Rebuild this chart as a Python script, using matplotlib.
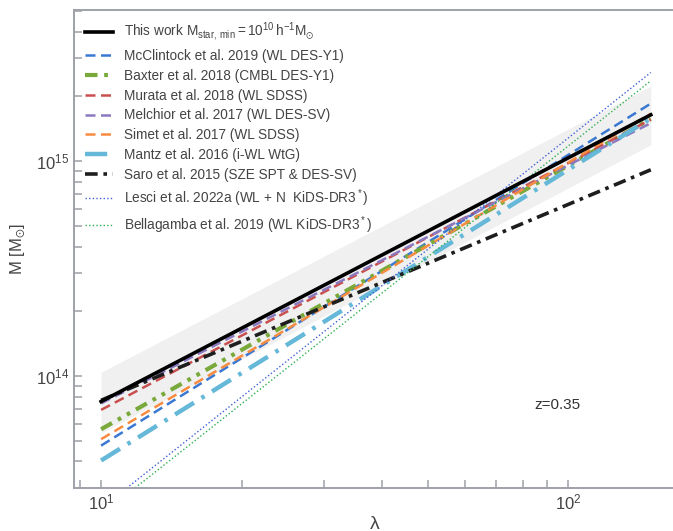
import matplotlib
matplotlib.use("Agg")
import matplotlib.pyplot as plt
import numpy as np

plt.rcParams['font.family'] = ['Liberation Sans', 'DejaVu Sans']
plt.rcParams['mathtext.fontset'] = 'custom'
plt.rcParams['mathtext.rm'] = 'Liberation Sans'
plt.rcParams['mathtext.it'] = 'Liberation Sans:italic'
plt.rcParams['mathtext.fallback'] = 'stixsans'

# richness range of all relations
lam_ends = [10, 150]

# mass (M_sun) at lambda = 10 and lambda = 150
this_work = [7.6e13, 1.64e15]
mcclintock = [4.74e13, 1.85e15]
baxter = [5.65e13, 1.57e15]
murata = [6.95e13, 1.56e15]
melchior = [7.45e13, 1.50e15]
simet = [5.08e13, 1.66e15]
mantz = [4.04e13, 1.58e15]
saro = [7.7e13, 9.1e14]
lesci = [2.42e13, 2.58e15]
bellagamba = [2.26e13, 2.36e15]

band_low = [5.43e13, 1.19e15]
band_high = [1.04e14, 2.23e15]

fig = plt.figure(figsize=(6.73, 5.31), dpi=100)
ax = fig.add_axes([74 / 673, 43 / 531, 601 / 673, 478 / 531])

ax.fill_between(lam_ends, band_low, band_high, color='#f0f0f0', lw=0, zorder=0)

ax.plot(lam_ends, this_work, color='black', lw=2.6,
        label=r'This work $\mathrm{M_{star,\,min}} = 10^{10}\,\mathrm{h^{-1}M_{\odot}}$', zorder=5)
ax.plot(lam_ends, mcclintock, color='#3b78d2', lw=1.8, dashes=(4, 2.2),
        label='McClintock et al. 2019 (WL DES-Y1)')
ax.plot(lam_ends, baxter, color='#78a93a', lw=3, dashes=(3, 1.6, 0.9, 1.6, 0.9, 1.6),
        label='Baxter et al. 2018 (CMBL DES-Y1)')
ax.plot(lam_ends, murata, color='#c9504f', lw=1.8, dashes=(4, 2.2),
        label='Murata et al. 2018 (WL SDSS)')
ax.plot(lam_ends, melchior, color='#8a79c0', lw=1.8, dashes=(4, 2.2),
        label='Melchior et al. 2017 (WL DES-SV)')
ax.plot(lam_ends, simet, color='#f78b40', lw=1.8, dashes=(4, 2.2),
        label='Simet et al. 2017 (WL SDSS)')
ax.plot(lam_ends, mantz, color='#66b8d8', lw=3.2, dashes=(5, 2, 0.8, 2),
        label='Mantz et al. 2016 (i-WL WtG)')
ax.plot(lam_ends, saro, color='#1e1e1e', lw=2.6, dashes=(3.5, 1.6, 1, 1.6),
        label='Saro et al. 2015 (SZE SPT & DES-SV)')
ax.plot(lam_ends, lesci, color='#3f5fd6', lw=1, ls=(0, (1, 1.6)),
        label=r'Lesci et al. 2022a (WL + N  KiDS-DR3$^*$)')
ax.plot(lam_ends, bellagamba, color='#2eb050', lw=1, ls=(0, (1, 1.6)),
        label=r'Bellagamba et al. 2019 (WL KiDS-DR3$^*$)')

ax.set_xscale('log')
ax.set_yscale('log')
ax.set_xlim(8.75, 169)
ax.set_ylim(3.01e13, 5.04e15)

grey = '#9fa1a8'
for side in ['left', 'bottom', 'top', 'right']:
    ax.spines[side].set_color(grey)
    ax.spines[side].set_linewidth(1.4)
ax.tick_params(which='both', direction='in', color=grey, width=1.1,
               labelcolor='#444444', labelsize=12, top=False, right=False)
ax.tick_params(which='major', length=6)
ax.tick_params(which='minor', length=6)

ax.set_xlabel('λ', fontsize=14, color='#444444', labelpad=2)
ax.set_ylabel(r'M [M$_{\odot}$]', fontsize=12, color='#444444', labelpad=6)

ax.text(0.805, 0.174, 'z=0.35', transform=ax.transAxes, fontsize=11,
        color='#333333', ha='center', va='center')

ax.legend(loc='upper left', frameon=False, fontsize=9.8, labelcolor='#444444',
          handlelength=2.1, handletextpad=0.75, labelspacing=0.42,
          borderaxespad=0.4, bbox_to_anchor=(0.0, 1.0))

fig.savefig('out.png', dpi=100)
